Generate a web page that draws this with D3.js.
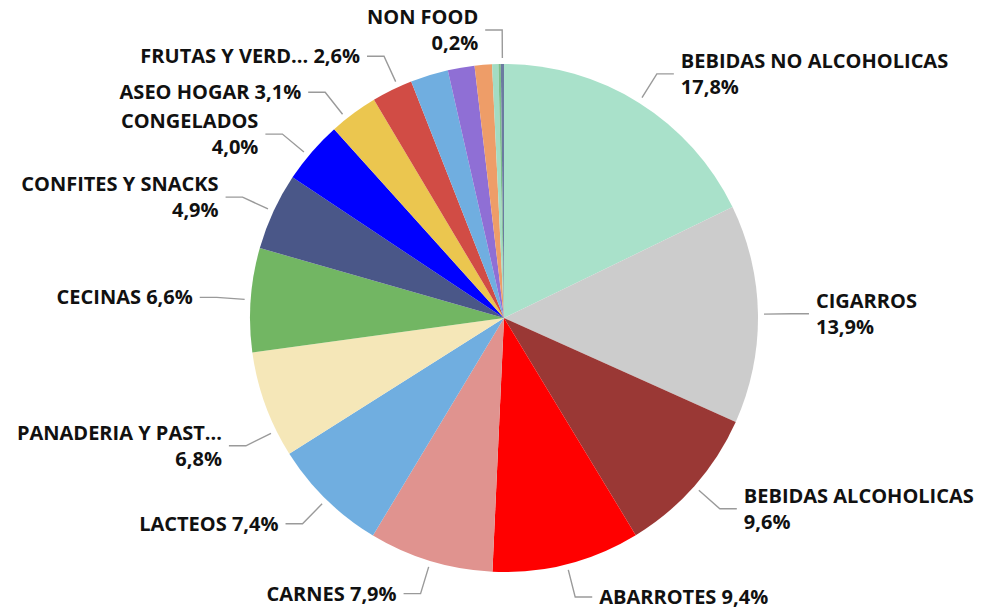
<!DOCTYPE html>
<html lang="es">
<head>
  <meta charset="utf-8">
  <title>Venta por categoria</title>
  <script src="https://d3js.org/d3.v7.min.js"></script>
  <style>
    body { margin: 0; background: #fff; }
    .slice { stroke: none; }
    .leader { fill: none; stroke: #9a9a9a; stroke-width: 1.4; }
    .label {
      font-family: "Open Sans", "Noto Sans", sans-serif;
      font-weight: 700;
      font-size: 20px;
      fill: #111;
    }
  </style>
</head>
<body>
  <div id="chart"></div>

  <script>
    // categorias en el orden del grafico (sentido horario desde arriba)
    var categories = [
      "BEBIDAS NO ALCOHOLICAS", "CIGARROS", "BEBIDAS ALCOHOLICAS", "ABARROTES",
      "CARNES", "LACTEOS", "PANADERIA Y PAST...", "CECINAS",
      "CONFITES Y SNACKS", "CONGELADOS", "ASEO HOGAR", "FRUTAS Y VERD...",
      "", "", "", "", "", "NON FOOD"
    ];
    var values = [17.8, 13.9, 9.6, 9.4, 7.9, 7.4, 6.8, 6.6, 4.9, 4.0, 3.1, 2.6,
                  2.4, 1.7, 1.1, 0.4, 0.15, 0.2];
    var colors = [
      "#a9e1ca", "#cccccc", "#9a3835", "#ff0000", "#e0938f", "#70aee0",
      "#f5e7b8", "#72b663", "#4a5788", "#0000ff", "#ebc64f", "#d14c45",
      "#70aee0", "#8f6fd5", "#ee9d68", "#a3dcc3", "#7dbf8c", "#6b7ba0"
    ];
    // etiquetas en dos lineas (nombre / porcentaje)
    var twoLine = ["BEBIDAS NO ALCOHOLICAS", "CIGARROS", "BEBIDAS ALCOHOLICAS",
                   "PANADERIA Y PAST...", "CONFITES Y SNACKS", "CONGELADOS", "NON FOOD"];
    // giro (radianes) de la linea guia donde el original la desplaza
    var leaderShift = {
      "PANADERIA Y PAST...": -0.11, "CONGELADOS": -0.02,
      "ASEO HOGAR": -0.035, "FRUTAS Y VERD...": 0.026
    };

    var width = 987, height = 613;
    var cx = 504, cy = 318, radius = 254;

    var svg = d3.select("#chart")
      .append("svg")
        .attr("width", width)
        .attr("height", height);

    var data = categories.map(function(c, i) {
      return { name: c, value: values[i], color: colors[i] };
    });

    var pie = d3.pie()
      .sort(null)
      .value(function(d) { return d.value; });

    var arc = d3.arc().innerRadius(0).outerRadius(radius);

    var g = svg.append("g").attr("transform", "translate(" + cx + "," + cy + ")");
    var arcs = pie(data);

    g.selectAll("path.slice")
      .data(arcs)
      .enter()
      .append("path")
        .attr("class", "slice")
        .attr("d", arc)
        .attr("fill", function(d) { return d.data.color; });

    function fmt(v) { return d3.format(".1f")(v).replace(".", ",") + "%"; }

    function pointAt(a, r) { return [r * Math.sin(a), -r * Math.cos(a)]; }

    var labeled = arcs.filter(function(d) { return d.data.name !== ""; });

    labeled.forEach(function(d) {
      var mid = (d.startAngle + d.endAngle) / 2 + (leaderShift[d.data.name] || 0);
      var right = Math.sin(mid) > 0.01;
      var p0 = pointAt(mid, radius + 6);
      var p1 = pointAt(mid, radius + 34);
      var dir = right ? 1 : -1;
      var p2 = [p1[0] + dir * 17, p1[1]];

      g.append("polyline")
        .attr("class", "leader")
        .attr("points", [p0, p1, p2].map(function(p) { return p.join(","); }).join(" "));

      var tx = p2[0] + dir * 7;
      var anchor = right ? "start" : "end";
      var pct = fmt(d.data.value);
      var t = g.append("text")
        .attr("class", "label")
        .attr("text-anchor", anchor);

      if (twoLine.indexOf(d.data.name) >= 0) {
        t.append("tspan").attr("x", tx).attr("y", p1[1] - 6).text(d.data.name);
        t.append("tspan").attr("x", tx).attr("y", p1[1] + 20).text(pct);
      } else {
        t.append("tspan").attr("x", tx).attr("y", p1[1] + 7).text(d.data.name + " " + pct);
      }
    });
  </script>
</body>
</html>
